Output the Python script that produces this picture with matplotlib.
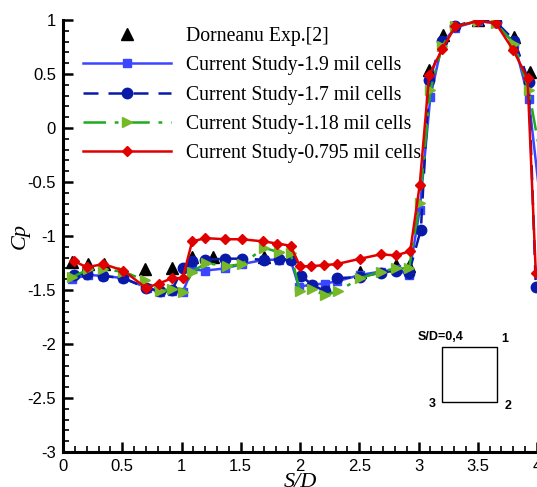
import matplotlib
matplotlib.use("Agg")
import matplotlib.pyplot as plt
from matplotlib.patches import Rectangle
from matplotlib.ticker import MultipleLocator

# ---------------- data ----------------
exp_x = [0.08, 0.21, 0.35, 0.69, 0.92, 1.09, 1.27, 1.70, 2.51, 2.81, 2.92, 3.09, 3.21, 3.50, 3.81, 3.94]
exp_y = [-1.24, -1.26, -1.26, -1.31, -1.30, -1.19, -1.19, -1.19, -1.33, -1.27, -1.28, 0.54, 0.86, 1.00, 0.84, 0.52]

m19_x = [0.08, 0.21, 0.34, 0.51, 0.71, 0.82, 0.92, 1.01, 1.09, 1.20, 1.37, 1.51, 1.70, 1.82, 1.92,
         1.99, 2.10, 2.21, 2.31, 2.51, 2.68, 2.81, 2.92, 3.01, 3.10, 3.20, 3.31, 3.50, 3.65, 3.81, 3.93, 4.11]
m19_y = [-1.40, -1.36, -1.37, -1.39, -1.48, -1.52, -1.51, -1.52, -1.31, -1.32, -1.30, -1.26, -1.22, -1.22, -1.22,
         -1.47, -1.45, -1.44, -1.42, -1.36, -1.33, -1.31, -1.36, -0.76, 0.29, 0.78, 0.93, 0.99, 0.97, 0.78, 0.27, -1.47]

m17_x = [0.09, 0.20, 0.34, 0.51, 0.70, 0.82, 0.92, 1.01, 1.09, 1.20, 1.37, 1.51, 1.70, 1.82, 1.92,
         2.01, 2.10, 2.21, 2.31, 2.51, 2.68, 2.81, 2.92, 3.02, 3.09, 3.20, 3.31, 3.50, 3.65, 3.81, 3.93, 3.99]
m17_y = [-1.36, -1.35, -1.37, -1.39, -1.48, -1.51, -1.50, -1.30, -1.23, -1.22, -1.21, -1.21, -1.22, -1.21, -1.22,
         -1.37, -1.45, -1.51, -1.39, -1.38, -1.34, -1.32, -1.34, -0.94, 0.44, 0.81, 0.94, 1.01, 0.985, 0.81, 0.43, -1.47]

m118_x = [0.08, 0.21, 0.34, 0.51, 0.69, 0.82, 0.92, 1.01, 1.09, 1.21, 1.38, 1.51, 1.70, 1.82, 1.92,
          2.00, 2.10, 2.21, 2.32, 2.51, 2.68, 2.81, 2.92, 3.01, 3.10, 3.20, 3.31, 3.50, 3.65, 3.81, 3.93, 4.20]
m118_y = [-1.38, -1.31, -1.31, -1.33, -1.41, -1.51, -1.49, -1.52, -1.33, -1.25, -1.28, -1.26, -1.11, -1.15, -1.16,
          -1.51, -1.49, -1.55, -1.51, -1.39, -1.33, -1.30, -1.30, -0.69, 0.35, 0.76, 0.94, 0.99, 0.97, 0.78, 0.35, -1.30]

m0795_x = [0.09, 0.20, 0.34, 0.51, 0.70, 0.81, 0.92, 1.01, 1.09, 1.20, 1.37, 1.51, 1.69, 1.81, 1.92,
           2.00, 2.09, 2.20, 2.31, 2.51, 2.68, 2.81, 2.93, 3.01, 3.09, 3.20, 3.31, 3.50, 3.65, 3.80, 3.92, 3.99]
m0795_y = [-1.23, -1.29, -1.26, -1.32, -1.48, -1.44, -1.39, -1.39, -1.05, -1.02, -1.03, -1.03, -1.05, -1.07, -1.09,
           -1.28, -1.28, -1.27, -1.26, -1.21, -1.17, -1.18, -1.14, -0.53, 0.49, 0.73, 0.94, 0.99, 0.975, 0.72, 0.46, -1.345]

labels = ["Dorneanu Exp.[2]",
          "Current Study-1.9 mil cells",
          "Current Study-1.7 mil cells",
          "Current Study-1.18 mil cells",
          "Current Study-0.795 mil cells"]

# ---------------- figure ----------------
fig = plt.figure(figsize=(5.37, 4.87), dpi=100)
ax = fig.add_axes([63/537, 1-452/487, 1-63/537, (452-20)/487])

ax.plot(exp_x, exp_y, linestyle="none", marker="^", color="black", markersize=9, label=labels[0], zorder=2)
ax.plot(m19_x, m19_y, "-", color="#3a46ff", lw=1.8, marker="s", markersize=5.5, label=labels[1], zorder=3)
ax.plot(m17_x, m17_y, color="#0a1aa8", lw=1.8, ls=(0, (6, 4)), marker="o", markersize=7.5, label=labels[2], zorder=4)
ax.plot(m118_x, m118_y, color="#1faa1f", lw=1.8, ls=(0, (9, 3.5, 1.5, 3.5)), marker=">", markersize=7,
        markerfacecolor="#77b828", markeredgecolor="#77b828", label=labels[3], zorder=5)
ax.plot(m0795_x, m0795_y, "-", color="#e00000", lw=1.8, marker="D", markersize=5, label=labels[4], zorder=6)

ax.set_xlim(0, 4)
ax.set_ylim(-3, 1)
ax.xaxis.set_major_locator(MultipleLocator(0.5))
ax.xaxis.set_minor_locator(MultipleLocator(0.1))
ax.yaxis.set_major_locator(MultipleLocator(0.5))
ax.yaxis.set_minor_locator(MultipleLocator(0.1))
ax.xaxis.set_major_formatter(matplotlib.ticker.FuncFormatter(lambda v, p: f"{v:g}"))
ax.yaxis.set_major_formatter(matplotlib.ticker.FuncFormatter(lambda v, p: f"{v:g}"))

for s in ["top", "right"]:
    ax.spines[s].set_visible(False)
for s in ["left", "bottom"]:
    ax.spines[s].set_linewidth(2.2)

ax.tick_params(which="major", direction="in", length=7, width=1.8, labelsize=12, pad=5)
ax.tick_params(which="minor", direction="in", length=4, width=1.2)
for lab in ax.get_xticklabels() + ax.get_yticklabels():
    lab.set_family("Liberation Sans")

ax.set_ylabel("Cp", family="Liberation Serif", style="italic", fontsize=16, labelpad=-2)
ax.set_xlabel("S/D", family="Liberation Serif", style="italic", fontsize=16, labelpad=-1)

leg = ax.legend(loc="upper left", bbox_to_anchor=(83/537, 1-27/487), bbox_transform=fig.transFigure,
                frameon=False, prop={"family": "Liberation Serif", "size": 14.2},
                handlelength=4.47, handletextpad=0.76, labelspacing=0.52, borderpad=0, borderaxespad=0,
                numpoints=1)

# inset sketch
ax.add_patch(Rectangle((0.799, 0.115), 0.117, 0.1275, transform=ax.transAxes,
                       fill=False, edgecolor="black", lw=1.0))
kw = dict(transform=ax.transAxes, family="Liberation Sans", weight="bold", fontsize=9,
          ha="center", va="center")
ax.text(0.797, 0.266, "S/D=0,4", **kw)
ax.text(0.932, 0.261, "1", **kw)
ax.text(0.939, 0.1065, "2", **kw)
ax.text(0.778, 0.111, "3", **kw)

fig.savefig("out.png", dpi=100)
